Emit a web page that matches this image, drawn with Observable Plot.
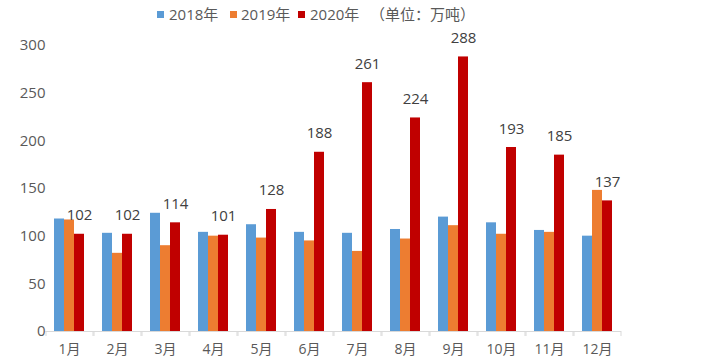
<!DOCTYPE html>
<html>
<head>
<meta charset="utf-8">
<script src="https://cdn.jsdelivr.net/npm/d3@7"></script>
<script src="https://cdn.jsdelivr.net/npm/@observablehq/plot@0.6"></script>
<style>
  body { margin: 0; background: #fff; font-family: "Open Sans", "Noto Sans CJK SC", sans-serif; }
  #legend { position: relative; height: 22px; width: 717px; font-size: 15px; color: #595959; }
  #legend span { position: absolute; top: 4px; line-height: 20px; white-space: nowrap; }
  #legend .sw { width: 7px; height: 7px; top: 11px; }
</style>
</head>
<body>
<div id="legend"></div>
<div id="chart"></div>
<script>
const months = ["1月","2月","3月","4月","5月","6月","7月","8月","9月","10月","11月","12月"];
const years = ["2018年","2019年","2020年"];
const colors = ["#5B9BD5","#ED7D31","#C00000"];
const v2018 = [118,103,124,104,112,104,103,107,120,114,106,100];
const v2019 = [117,82,90,100,98,95,84,97,111,102,104,148];
const v2020 = [102,102,114,101,128,188,261,224,288,193,185,137];
const unitLabel = "（单位：万吨）";
const yTicks = [0,50,100,150,200,250,300];

const series = [v2018, v2019, v2020];
const data = months.flatMap((m, i) => years.map((y, j) => ({month: m, year: y, value: series[j][i]})));

// legend
const legend = document.getElementById("legend");
const swX = [157, 230, 298];
const txX = [169, 241, 310];
years.forEach((y, j) => {
  const s = document.createElement("span");
  s.className = "sw"; s.style.left = swX[j] + "px"; s.style.background = colors[j];
  legend.appendChild(s);
  const t = document.createElement("span");
  t.style.left = txX[j] + "px"; t.textContent = y;
  legend.appendChild(t);
});
const u = document.createElement("span");
u.style.left = "370px"; u.textContent = unitLabel;
legend.appendChild(u);

const chart = Plot.plot({
  width: 717,
  height: 341,
  marginLeft: 40,
  marginRight: 90,
  marginTop: 23,
  marginBottom: 32,
  style: {fontFamily: '"Open Sans", "Noto Sans CJK SC", sans-serif', fontSize: "14px", color: "#595959", background: "#fff"},
  fx: {domain: months, paddingInner: 0.33, paddingOuter: 0.165, label: null, tickSize: 0, tickPadding: 13},
  x: {domain: years, axis: null, padding: 0},
  y: {domain: [0, 300], ticks: yTicks, tickSize: 0, tickPadding: 8, label: null},
  color: {domain: years, range: colors},
  marks: [
    Plot.axisY({ticks: yTicks, tickSize: 0, tickPadding: 8, fontSize: 15, label: null}),
    Plot.barY(data, {fx: "month", x: "year", y: "value", fill: "year"}),
    Plot.ruleY([0], {stroke: "#d9d9d9", insetLeft: -8, insetRight: -8}),
    Plot.ruleX(data.filter(d => d.year === years[0]), {fx: "month", x: "year", y1: 0, y2: 0, insetBottom: -5, dx: -13.5, stroke: "#d9d9d9"}),
    Plot.ruleX(data.filter(d => d.year === years[2]), {fx: "month", x: "year", y1: 0, y2: 0, insetBottom: -5, dx: 13.5, stroke: "#d9d9d9"}),
    Plot.text(data.filter(d => d.year === years[2]), {fx: "month", x: "year", y: "value", text: "value", dy: -14, lineAnchor: "bottom", fill: "#404040", fontSize: 15})
  ]
});
document.getElementById("chart").appendChild(chart);
</script>
</body>
</html>
